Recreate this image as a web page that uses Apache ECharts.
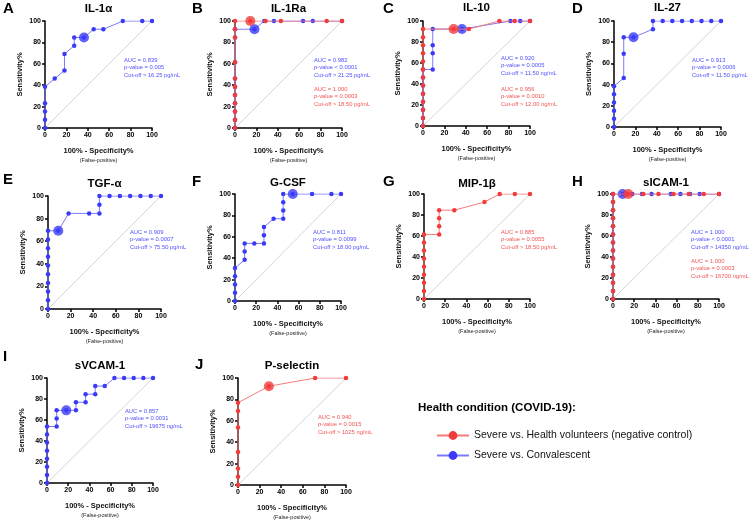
<!DOCTYPE html>
<html>
<head>
<meta charset="utf-8">
<script src="https://cdn.jsdelivr.net/npm/echarts@6/dist/echarts.min.js"></script>
<style>
html, body { margin: 0; padding: 0; background: #fff; }
#main { width: 750px; height: 522px; }
</style>
</head>
<body>
<div id="main"></div>
<script>
var panelLetters = ['A', 'B', 'C', 'D', 'E', 'F', 'G', 'H', 'I', 'J'];
var panelTitles = ['IL-1α', 'IL-1Ra', 'IL-10', 'IL-27', 'TGF-α', 'G-CSF', 'MIP-1β', 'sICAM-1', 'sVCAM-1', 'P-selectin'];
var axisTicks = [0, 20, 40, 60, 80, 100];

var redName = 'Severe vs. Health volunteers (negative control)';
var blueName = 'Severe vs. Convalescent';

// ROC points [100% - specificity, sensitivity]
var blueA = [[0,0],[0,7.7],[0,15.4],[0,23.1],[0,38.5],[9.1,46.2],[18.2,53.8],[18.2,69.2],[27.3,76.9],[27.3,84.6],[36.4,84.6],[45.5,92.3],[54.5,92.3],[72.7,100],[90.9,100],[100,100]];
var blueACut = [36.4, 84.6];

var blueB = [[0,0],[0,7.7],[0,15.4],[0,23.1],[0,30.8],[0,38.5],[0,46.2],[0,61.5],[0,84.6],[0,92.3],[18.2,92.3],[27.3,100],[36.4,100],[63.6,100],[72.7,100],[100,100]];
var blueBCut = [18.2, 92.3];
var redB = [[0,0],[0,7.7],[0,15.4],[0,23.1],[0,30.8],[0,38.5],[0,46.2],[0,61.5],[0,84.6],[0,92.3],[0,100],[14.3,100],[28.6,100],[42.9,100],[85.7,100],[100,100]];
var redBCut = [14.3, 100];

var blueC = [[0,0],[0,7.7],[0,15.4],[0,23.1],[0,30.8],[0,38.5],[0,46.2],[0,53.8],[9.1,53.8],[9.1,69.2],[9.1,76.9],[9.1,92.3],[36.4,92.3],[81.8,100],[90.9,100],[100,100]];
var blueCCut = [36.4, 92.3];
var redC = [[0,0],[0,7.7],[0,15.4],[0,23.1],[0,30.8],[0,38.5],[0,46.2],[0,53.8],[0,61.5],[0,69.2],[0,76.9],[0,84.6],[0,92.3],[28.6,92.3],[42.9,92.3],[71.4,100],[85.7,100],[100,100]];
var redCCut = [28.6, 92.3];

var blueD = [[0,0],[0,7.7],[0,15.4],[0,23.1],[0,30.8],[0,38.5],[9.1,46.2],[9.1,69.2],[9.1,84.6],[18.2,84.6],[36.4,92.3],[36.4,100],[45.5,100],[54.5,100],[63.6,100],[72.7,100],[81.8,100],[90.9,100],[100,100]];
var blueDCut = [18.2, 84.6];

var blueE = [[0,0],[0,7.7],[0,15.4],[0,23.1],[0,30.8],[0,38.5],[0,46.2],[0,53.8],[0,61.5],[0,69.2],[9.1,69.2],[18.2,84.6],[36.4,84.6],[45.5,84.6],[45.5,92.3],[45.5,100],[54.5,100],[63.6,100],[72.7,100],[81.8,100],[90.9,100],[100,100]];
var blueECut = [9.1, 69.2];

var blueF = [[0,0],[0,7.7],[0,15.4],[0,23.1],[0,30.8],[9.1,38.5],[9.1,46.2],[9.1,53.8],[18.2,53.8],[27.3,53.8],[27.3,61.5],[27.3,69.2],[36.4,76.9],[45.5,76.9],[45.5,84.6],[45.5,92.3],[45.5,100],[54.5,100],[72.7,100],[90.9,100],[100,100]];
var blueFCut = [54.5, 100];

var redG = [[0,0],[0,7.7],[0,15.4],[0,23.1],[0,30.8],[0,38.5],[0,46.2],[0,53.8],[0,61.5],[14.3,61.5],[14.3,69.2],[14.3,76.9],[14.3,84.6],[28.6,84.6],[57.1,92.3],[71.4,100],[85.7,100],[100,100]];

var blueH = [[0,0],[0,7.7],[0,15.4],[0,23.1],[0,30.8],[0,38.5],[0,46.2],[0,53.8],[0,61.5],[0,69.2],[0,76.9],[0,84.6],[0,92.3],[0,100],[9.1,100],[18.2,100],[27.3,100],[36.4,100],[54.5,100],[63.6,100],[72.7,100],[81.8,100],[100,100]];
var blueHCut = [9.1, 100];
var redH = [[0,0],[0,7.7],[0,15.4],[0,23.1],[0,30.8],[0,38.5],[0,46.2],[0,53.8],[0,61.5],[0,69.2],[0,76.9],[0,84.6],[0,92.3],[0,100],[14.3,100],[28.6,100],[42.9,100],[57.1,100],[71.4,100],[85.7,100],[100,100]];
var redHCut = [14.3, 100];

var blueI = [[0,0],[0,7.7],[0,15.4],[0,23.1],[0,30.8],[0,38.5],[0,46.2],[0,53.8],[9.1,53.8],[9.1,61.5],[9.1,69.2],[18.2,69.2],[27.3,69.2],[27.3,76.9],[36.4,76.9],[36.4,84.6],[45.5,84.6],[45.5,92.3],[54.5,92.3],[63.6,100],[72.7,100],[81.8,100],[90.9,100],[100,100]];
var blueICut = [18.2, 69.2];

var redJ = [[0,0],[0,7.7],[0,15.4],[0,30.8],[0,53.8],[0,69.2],[0,76.9],[28.6,92.3],[71.4,100],[100,100]];
var redJCut = [28.6, 92.3];

var panelBlue = [blueA, blueB, blueC, blueD, blueE, blueF, null, blueH, blueI, null];
var panelBlueCut = [blueACut, blueBCut, blueCCut, blueDCut, blueECut, blueFCut, null, blueHCut, blueICut, null];
var panelRed = [null, redB, redC, null, null, null, redG, redH, null, redJ];
var panelRedCut = [null, redBCut, redCCut, null, null, null, null, redHCut, null, redJCut];

var blueNotes = [
    ['AUC = 0.839', 'p-value = 0.005', 'Cut-off > 16.25 pg/mL'],
    ['AUC = 0.982', '{i|p}-value < 0.0001', 'Cut-off > 21.25 pg/mL'],
    ['AUC = 0.920', '{i|p}-value = 0.0005', 'Cut-off > 11.50 ng/mL'],
    ['AUC = 0.913', 'p-value = 0.0006', 'Cut-off > 11.50 pg/mL'],
    ['AUC = 0.909', 'p-value = 0.0007', 'Cut-off > 75.50 pg/mL'],
    ['AUC = 0.811', '{i|p}-value = 0.0099', 'Cut-off > 18.00 pg/mL'],
    null,
    ['AUC = 1.000', 'p-value < 0.0001', 'Cut-off > 14350 ng/mL'],
    ['AUC = 0.857', 'p-value = 0.0031', 'Cut-off > 19675 ng/mL'],
    null
];
var redNotes = [
    null,
    ['AUC = 1.000', '{i|p}-value = 0.0003', 'Cut-off > 18.50 pg/mL'],
    ['AUC = 0.956', '{i|p}-value = 0.0010', 'Cut-off > 12.00 ng/mL'],
    null, null, null,
    ['AUC = 0.885', '{i|p}-value = 0.0055', 'Cut-off > 18.50 pg/mL'],
    ['AUC = 1.000', 'p-value = 0.0003', 'Cut-off > 16700 ng/mL'],
    null,
    ['AUC = 0.940', '{i|p}-value = 0.0015', 'Cut-off > 1025 ng/mL']
];

// layout (pixels)
var grids = [
    {left: 45, top: 21, width: 107, height: 107},
    {left: 235, top: 21, width: 107, height: 107},
    {left: 423, top: 21, width: 107, height: 105},
    {left: 614, top: 21, width: 107, height: 106},
    {left: 48, top: 196, width: 113, height: 113},
    {left: 235, top: 194, width: 106, height: 107},
    {left: 424, top: 194, width: 106, height: 105},
    {left: 613, top: 194, width: 106, height: 105},
    {left: 47, top: 378, width: 106, height: 105},
    {left: 238, top: 378, width: 108, height: 107}
];
var letterPos = [[3,9],[192,9],[383,9],[572,9],[3,180],[192,182],[383,182],[572,182],[3,357],[195,365]];
var titleY = [9, 9, 8, 8, 184, 183, 184, 183, 366, 366];
var blueNotePos = [[124,60],[314,60],[501,58],[692,60],[130,232],[313,232],null,[691,232],[125,411],null];
var redNotePos = [null,[314,89],[501,89],null,null,null,[501,232],[691,261],null,[318,417]];

var FONT = 'Liberation Sans, Arial, sans-serif';
var BLUE = '#3b3bf7', BLUE_LINE = '#7a7aff', BLUE_TXT = '#5050ff';
var RED = '#f23b3b', RED_LINE = '#f57b7b', RED_TXT = '#f25555';

var xAxes = [], yAxes = [], series = [], graphics = [];

grids.forEach(function (g, i) {
    xAxes.push({
        gridIndex: i, type: 'value', min: 0, max: 100, interval: 20,
        name: '{a|100% - Specificity%}\n{b|(False-positive)}',
        nameLocation: 'middle', nameGap: 18,
        nameTextStyle: {
            rich: {
                a: {fontSize: 7.5, fontWeight: 'bold', color: '#111', fontFamily: FONT, lineHeight: 10},
                b: {fontSize: 5.5, color: '#222', fontFamily: FONT, lineHeight: 9}
            }
        },
        axisLine: {onZero: false, lineStyle: {color: '#000', width: 1.5}},
        axisTick: {length: 3, lineStyle: {color: '#000', width: 1.5}},
        axisLabel: {fontSize: 7, fontWeight: 'bold', color: '#000', margin: 4, fontFamily: FONT},
        splitLine: {show: false}
    });
    yAxes.push({
        gridIndex: i, type: 'value', min: 0, max: 100, interval: 20,
        name: 'Sensitivity%', nameLocation: 'middle', nameGap: 21,
        nameTextStyle: {fontSize: 7.5, fontWeight: 'bold', color: '#111', fontFamily: FONT},
        axisLine: {onZero: false, lineStyle: {color: '#000', width: 1.5}},
        axisTick: {length: 3, lineStyle: {color: '#000', width: 1.5}},
        axisLabel: {fontSize: 7, fontWeight: 'bold', color: '#000', margin: 4, fontFamily: FONT},
        splitLine: {show: false}
    });

    // reference diagonal
    series.push({
        type: 'line', xAxisIndex: i, yAxisIndex: i, silent: true,
        data: [[0, 0], [100, 100]], symbol: 'none', z: 1,
        lineStyle: {color: '#c9c9c9', width: 0.8}
    });

    [[panelBlue[i], panelBlueCut[i], blueName, BLUE, BLUE_LINE],
     [panelRed[i], panelRedCut[i], redName, RED, RED_LINE]].forEach(function (s, k) {
        if (!s[0]) return;
        series.push({
            type: 'line', name: s[2], xAxisIndex: i, yAxisIndex: i,
            data: s[0], symbol: 'circle', symbolSize: 4.5, z: 3 + k * 2,
            itemStyle: {color: s[3]},
            lineStyle: {color: s[4], width: 1},
            animation: false
        });
        if (s[1]) {
            series.push({
                type: 'scatter', name: s[2], xAxisIndex: i, yAxisIndex: i,
                data: [s[1]], symbol: 'circle', symbolSize: 10, z: 4 + k * 2,
                itemStyle: {color: s[3]}, animation: false
            });
        }
    });

    graphics.push({
        type: 'text', left: letterPos[i][0], top: letterPos[i][1] - 8,
        style: {text: panelLetters[i], font: 'bold 15px ' + FONT, fill: '#000'}
    });
    graphics.push({
        type: 'text', x: g.left + g.width / 2, y: titleY[i],
        style: {text: panelTitles[i], font: 'bold 11.5px ' + FONT, fill: '#000', align: 'center', verticalAlign: 'middle'}
    });

    [[blueNotes[i], blueNotePos[i], BLUE_TXT], [redNotes[i], redNotePos[i], RED_TXT]].forEach(function (n) {
        if (!n[0]) return;
        graphics.push({
            type: 'text', x: n[1][0], y: n[1][1] - 4,
            style: {
                text: n[0].join('\n'), fill: n[2], fontSize: 5.8, fontFamily: FONT, lineHeight: 7.8,
                verticalAlign: 'top',
                rich: {i: {fontStyle: 'italic', fill: n[2], fontSize: 5.8, fontFamily: FONT}}
            }
        });
    });
});

graphics.push({
    type: 'text', x: 418, y: 408,
    style: {text: 'Health condition (COVID-19):', font: 'bold 11.5px ' + FONT, fill: '#000', verticalAlign: 'middle'}
});

var option = {
    backgroundColor: '#fff',
    animation: false,
    grid: grids,
    xAxis: xAxes,
    yAxis: yAxes,
    legend: {
        orient: 'vertical', left: 431, top: 425, itemWidth: 32, itemHeight: 11, itemGap: 9,
        selectedMode: false,
        textStyle: {fontSize: 10.5, color: '#111', fontFamily: FONT},
        data: [redName, blueName]
    },
    graphic: graphics,
    series: series
};

var chart = echarts.init(document.getElementById('main'));
chart.setOption(option);
</script>
</body>
</html>
